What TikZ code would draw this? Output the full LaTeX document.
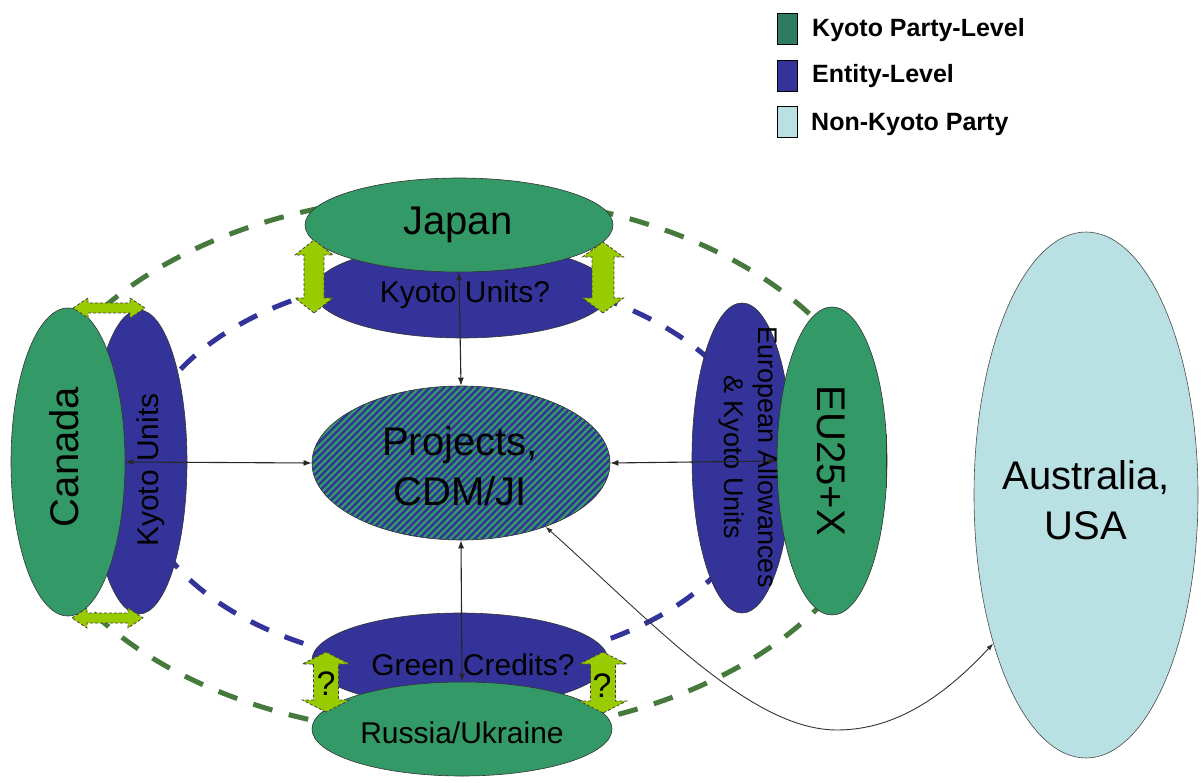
\documentclass[tikz,border=0pt]{standalone}
\usepackage{fontspec}
\setmainfont{Liberation Sans}
\usetikzlibrary{arrows.meta,shapes.geometric}
\definecolor{kgreen}{HTML}{339966}
\definecolor{kblue}{HTML}{333399}
\definecolor{nkblue}{HTML}{B9E0E3}
\definecolor{lgreen}{HTML}{2E7B62}
\definecolor{dgreen}{HTML}{457A3C}
\definecolor{yg}{HTML}{99CC00}
\tikzset{
  kp/.style={ellipse, draw=black!80, line width=0.6pt, fill=kgreen, inner sep=0pt},
  ent/.style={ellipse, draw=black!80, line width=0.6pt, fill=kblue, inner sep=0pt},
  nk/.style={ellipse, draw=black!70, line width=0.6pt, fill=nkblue, inner sep=0pt},
  big/.style={font=\fontsize{40}{50}\selectfont, inner sep=0pt},
  mid/.style={font=\fontsize{30}{36}\selectfont, inner sep=0pt},
  legbox/.style={rectangle, draw=black, line width=0.8pt, minimum width=20pt, minimum height=31pt, inner sep=0pt},
  legtxt/.style={font=\fontsize{25}{30}\selectfont\bfseries, anchor=base west, inner sep=0pt},
  conn/.style={{Latex[length=8pt,width=6pt]}-{Latex[length=8pt,width=6pt]}, line width=1.1pt, black!85},
  thinconn/.style={{Latex[length=7pt,width=5pt]}-{Latex[length=7pt,width=5pt]}, line width=0.9pt, black!80},
  gdash/.style={dgreen, line width=5pt, dash pattern=on 20pt off 17pt},
  bdash/.style={kblue, line width=5pt, dash pattern=on 20pt off 17pt},
  gbl/.style={fill=yg, draw=black!75, line width=0.8pt, dash pattern=on 3pt off 2pt},
  pics/gdbl/.style n args={4}{code={
    \path[gbl] (-#1/2,0) -- (-#1/2+#4,-#3/2) -- (-#1/2+#4,-#2/2) -- (#1/2-#4,-#2/2)
      -- (#1/2-#4,-#3/2) -- (#1/2,0) -- (#1/2-#4,#3/2) -- (#1/2-#4,#2/2)
      -- (-#1/2+#4,#2/2) -- (-#1/2+#4,#3/2) -- cycle;
  }},
}
\begin{document}
\begin{tikzpicture}[x=1pt,y=-1pt]
\useasboundingbox (0,0) rectangle (1201,783);

% legend
\node[legbox, fill=lgreen] (lg1) at (787,29) {};
\node[legtxt] (lt1) at (812,37) {Kyoto Party-Level};
\node[legbox, fill=kblue] (lg2) at (787,75.5) {};
\node[legtxt] (lt2) at (812,83) {Entity-Level};
\node[legbox, fill=nkblue] (lg3) at (787,121.5) {};
\node[legtxt] (lt3) at (811,131) {Non-Kyoto Party};

% dashed rings
\draw[gdash] (453,465) ellipse [x radius=430, y radius=270];
\draw[bdash] (450,470) ellipse [x radius=314, y radius=196];

% entity-level ellipses
\node[ent, minimum width=296pt, minimum height=94pt] (jku) at (462,291) {};
\node[ent, minimum width=96pt, minimum height=304pt] (cku) at (139,462) {};
\node[ent, minimum width=100pt, minimum height=310pt] (eua) at (742,458) {};
\node[ent, minimum width=296pt, minimum height=94pt] (rgc) at (460,660) {};

% party-level ellipses
\node[kp, minimum width=308pt, minimum height=94pt] (japan) at (459,225) {};
\node[kp, minimum width=114pt, minimum height=308pt] (canada) at (68,462) {};
\node[kp, minimum width=110pt, minimum height=308pt] (eu) at (832,461) {};
\node[kp, minimum width=300pt, minimum height=94pt] (russia) at (462,729) {};
\draw[line width=1.8pt, black!80, line cap=round] ([shift={(-0.8,-26)}]eu.east) -- ([shift={(-0.8,26)}]eu.east);

% non-Kyoto
\node[nk, minimum width=224pt, minimum height=526pt] (aus) at (1086,495) {};

% projects (hatched)
\node[ellipse, draw=black!80, line width=0.6pt, fill=kblue, inner sep=0pt,
      minimum width=298pt, minimum height=154pt,
      path picture={\foreach \i in {-320,-313,...,320}{\draw[kgreen, line width=2.4pt]
        ([shift={(\i-120,120)}]path picture bounding box.center) --
        ([shift={(\i+120,-120)}]path picture bounding box.center);}}] (proj) at (461,463) {};

% labels
\node[big, anchor=base] (japanT) at (458,235) {Japan};
\node[mid, anchor=base] (jkuT) at (465,303) {Kyoto Units?};
\node[big, anchor=base, rotate=90] (canadaT) at (78,457) {Canada};
\node[mid, anchor=base, rotate=90] (ckuT) at (158,470) {Kyoto Units};
\node[big, anchor=base, rotate=-90] (euT) at (817,461) {EU25+X};
\node[font=\fontsize{27}{34}\selectfont, inner sep=0pt, align=center, rotate=-90] (euaT) at (748,457) {European Allowances\\\& Kyoto Units};
\node[big, align=center] (projT) at (460,466) {Projects,\\CDM/JI};
\node[mid, anchor=base] (rgcT) at (473,675) {Green Credits?};
\node[mid, anchor=base] (russiaT) at (462,743) {Russia/Ukraine};
\node[big, align=center] (ausT) at (1086,500) {Australia,\\USA};

% connectors
\draw[conn] (japan.south) -- (proj.north);
\draw[conn] (canada.east) -- (proj.west);
\draw[conn] (proj.east) -- (eu.west);
\draw[conn] (proj.south) -- (russia.north);
\coordinate (low) at (837,730);
\draw[thinconn] (proj.-37) .. controls (650,620) and (750,730) .. (low)
  .. controls (900,730) and (950,690) .. (aus.238);

% green double arrows
\pic (ajl) [rotate=90] at (314,276.5) {gdbl={73}{20}{38}{15}};
\pic (ajr) [rotate=90] at (603,277.5) {gdbl={71}{22}{41}{15}};
\pic (act) at (109,308) {gdbl={72}{10}{20}{15}};
\pic (acb) at (107.5,618) {gdbl={71}{10}{20}{15}};
\pic (arl) [rotate=90] at (326,682) {gdbl={60}{25}{47}{12}};
\pic (arr) [rotate=90] at (603,682.5) {gdbl={61}{25}{47}{12}};
\node[font=\fontsize{34}{40}\selectfont, anchor=base, inner sep=0pt] (q1) at (326,695) {?};
\node[font=\fontsize{34}{40}\selectfont, anchor=base, inner sep=0pt] (q2) at (602,697) {?};
\end{tikzpicture}
\end{document}
